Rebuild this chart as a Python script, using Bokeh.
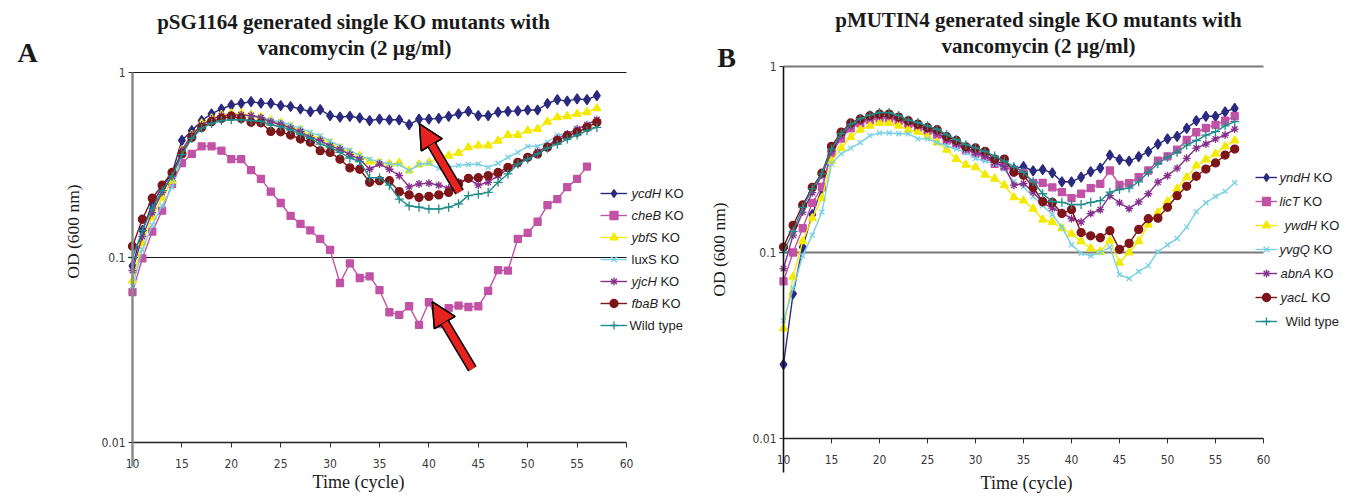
import math
from bokeh.plotting import figure
from bokeh.layouts import row
from bokeh.models import (FixedTicker, CustomJSTickFormatter, Label, Legend,
                          LegendItem, Arrow, NormalHead, Range1d)
from bokeh.embed import file_html
from bokeh.resources import INLINE

# ---------------- data ----------------
CYCLES = [10, 11, 12, 13, 14, 15, 16, 17, 18, 19, 20, 21, 22, 23, 24, 25,
          26, 27, 28, 29, 30, 31, 32, 33, 34, 35, 36, 37, 38, 39, 40, 41,
          42, 43, 44, 45, 46, 47, 48, 49, 50, 51, 52, 53, 54, 55, 56, 57]
X_TICKS = [10, 15, 20, 25, 30, 35, 40, 45, 50, 55, 60]
Y_TICKS = [0.01, 0.1, 1]

# Panel A : pSG1164 generated single KO mutants
A_ycdH = [0.09, 0.14, 0.195, 0.24, 0.285,
          0.43, 0.485, 0.55, 0.597, 0.635, 0.667, 0.681, 0.695, 0.683, 0.681,
          0.662, 0.655, 0.635, 0.614, 0.63, 0.584, 0.574, 0.58, 0.568, 0.55,
          0.56, 0.555, 0.555, 0.522, 0.56, 0.56, 0.565, 0.58, 0.597, 0.617,
          0.584, 0.584, 0.61, 0.617, 0.62, 0.627, 0.627, 0.68, 0.713, 0.70,
          0.72, 0.713, 0.75]
A_cheB = [0.065, 0.099, 0.138, 0.179, 0.25, 0.324, 0.363, 0.399, 0.399, 0.378,
          0.34, 0.34, 0.297, 0.266, 0.227, 0.197, 0.168, 0.152, 0.14, 0.126,
          0.11, 0.0728, 0.093, 0.0775, 0.079, 0.0667, 0.0506, 0.049, 0.0545, 0.0432,
          0.0573, 0.0437, 0.0533, 0.055, 0.054, 0.0545, 0.066, 0.0855, 0.085, 0.126,
          0.136, 0.156, 0.192, 0.207, 0.24, 0.266, 0.31]
A_ybfS = [0.075, 0.12, 0.165, 0.21, 0.26,
          0.38, 0.46, 0.53, 0.565, 0.59, 0.60, 0.60, 0.59, 0.575, 0.55,
          0.535, 0.51, 0.49, 0.46, 0.44, 0.415, 0.39, 0.37, 0.355, 0.33,
          0.325, 0.32, 0.325, 0.295, 0.318, 0.325, 0.348, 0.355, 0.367, 0.394,
          0.403, 0.403, 0.428, 0.459, 0.459, 0.485, 0.495, 0.542, 0.572, 0.58,
          0.597, 0.61, 0.64]
A_luxS = [0.07, 0.11, 0.15, 0.19, 0.24,
          0.36, 0.45, 0.52, 0.56, 0.58, 0.59, 0.59, 0.585, 0.575, 0.555,
          0.54, 0.52, 0.50, 0.475, 0.455, 0.425, 0.40, 0.38, 0.355, 0.34,
          0.33, 0.32, 0.318, 0.295, 0.318, 0.323, 0.303, 0.307, 0.315, 0.318,
          0.32, 0.307, 0.323, 0.348, 0.37, 0.399, 0.399, 0.42, 0.459, 0.465,
          0.495, 0.52, 0.556]
A_yjcH = [0.085, 0.13, 0.175, 0.225, 0.275,
          0.38, 0.46, 0.52, 0.56, 0.585, 0.59, 0.59, 0.585, 0.57, 0.54,
          0.525, 0.50, 0.48, 0.445, 0.43, 0.40, 0.385, 0.36, 0.34, 0.30,
          0.32, 0.30, 0.277, 0.241, 0.25, 0.252, 0.246, 0.237, 0.256, 0.266,
          0.246, 0.255, 0.277, 0.301, 0.32, 0.348, 0.373, 0.40, 0.44, 0.465,
          0.495, 0.522, 0.556]
A_fbaB = [0.115, 0.161, 0.209, 0.246, 0.288,
          0.363, 0.446, 0.505, 0.542, 0.565, 0.58, 0.565, 0.538, 0.535, 0.48,
          0.478, 0.459, 0.437, 0.42, 0.378, 0.37, 0.34, 0.305, 0.30, 0.255,
          0.26, 0.26, 0.227, 0.218, 0.211, 0.214, 0.218, 0.225, 0.25, 0.268,
          0.27, 0.277, 0.288, 0.307, 0.327, 0.348, 0.363, 0.394, 0.428, 0.455,
          0.475, 0.505, 0.538]
A_WT = [0.10, 0.14, 0.185, 0.23, 0.275,
        0.36, 0.44, 0.50, 0.53, 0.55, 0.555, 0.555, 0.55, 0.545, 0.52,
        0.51, 0.49, 0.465, 0.44, 0.41, 0.395, 0.37, 0.345, 0.33, 0.27,
        0.27, 0.246, 0.207, 0.19, 0.187, 0.183, 0.183, 0.187, 0.195, 0.216,
        0.22, 0.225, 0.255, 0.283, 0.32, 0.34, 0.363, 0.39, 0.41, 0.437,
        0.459, 0.485, 0.505]

# Panel B : pMUTIN4 generated single KO mutants
B_yndH = [0.025, 0.06, 0.107, 0.16, 0.22,
          0.35, 0.42, 0.475, 0.505, 0.525, 0.535, 0.535, 0.52, 0.50, 0.48,
          0.46, 0.44, 0.41, 0.39, 0.36, 0.35, 0.335, 0.31, 0.30, 0.281,
          0.29, 0.275, 0.279, 0.268, 0.24, 0.24, 0.254, 0.272, 0.284, 0.334,
          0.316, 0.31, 0.328, 0.349, 0.383, 0.408, 0.421, 0.465, 0.511, 0.54,
          0.54, 0.571, 0.595]
B_licT = [0.07, 0.1, 0.135, 0.185, 0.225,
          0.34, 0.41, 0.465, 0.495, 0.515, 0.525, 0.525, 0.51, 0.49, 0.47,
          0.45, 0.43, 0.40, 0.38, 0.355, 0.34, 0.325, 0.30, 0.29, 0.275,
          0.268, 0.237, 0.237, 0.224, 0.211, 0.196, 0.207, 0.222, 0.234, 0.276,
          0.231, 0.236, 0.254, 0.276, 0.312, 0.329, 0.357, 0.403, 0.443, 0.467,
          0.486, 0.511, 0.54]
B_ywdH = [0.039, 0.074, 0.115, 0.153, 0.196,
          0.31, 0.365, 0.417, 0.457, 0.48, 0.497, 0.497, 0.48, 0.457, 0.445,
          0.42, 0.39, 0.357, 0.318, 0.296, 0.287, 0.262, 0.249, 0.23, 0.198,
          0.19, 0.172, 0.15, 0.146, 0.135, 0.126, 0.115, 0.105, 0.101, 0.116,
          0.088, 0.1, 0.115, 0.141, 0.164, 0.188, 0.22, 0.254, 0.293, 0.316,
          0.339, 0.372, 0.40]
B_yvgQ = [0.043, 0.064, 0.096, 0.124, 0.165,
          0.30, 0.339, 0.364, 0.39, 0.425, 0.439, 0.439, 0.435, 0.435, 0.408,
          0.408, 0.39, 0.375, 0.36, 0.345, 0.32, 0.31, 0.30, 0.281, 0.24,
          0.225, 0.2, 0.179, 0.16, 0.137, 0.11, 0.099, 0.096, 0.1, 0.107,
          0.076, 0.0725, 0.079, 0.085, 0.101, 0.11, 0.119, 0.137, 0.166, 0.185,
          0.2, 0.213, 0.237]
B_abnA = [0.082, 0.124, 0.165, 0.21, 0.26,
          0.35, 0.425, 0.48, 0.51, 0.53, 0.54, 0.54, 0.525, 0.50, 0.48,
          0.46, 0.44, 0.405, 0.385, 0.36, 0.345, 0.33, 0.305, 0.29, 0.23,
          0.235, 0.211, 0.185, 0.173, 0.164, 0.152, 0.146, 0.162, 0.17, 0.202,
          0.185, 0.172, 0.187, 0.207, 0.239, 0.259, 0.284, 0.321, 0.364, 0.383,
          0.408, 0.428, 0.461]
B_yacL = [0.107, 0.14, 0.18, 0.224, 0.267,
          0.372, 0.443, 0.497, 0.522, 0.544, 0.555, 0.555, 0.535, 0.511, 0.49,
          0.47, 0.457, 0.42, 0.40, 0.37, 0.365, 0.35, 0.318, 0.318, 0.27,
          0.26, 0.224, 0.188, 0.186, 0.162, 0.17, 0.128, 0.123, 0.12, 0.131,
          0.104, 0.112, 0.133, 0.152, 0.153, 0.175, 0.202, 0.227, 0.257, 0.281,
          0.303, 0.334, 0.36]
B_WT = [0.10, 0.13, 0.175, 0.22, 0.265,
        0.36, 0.435, 0.49, 0.525, 0.55, 0.566, 0.565, 0.545, 0.515, 0.50,
        0.48, 0.46, 0.43, 0.405, 0.38, 0.365, 0.35, 0.33, 0.31, 0.29,
        0.27, 0.24, 0.207, 0.188, 0.186, 0.181, 0.181, 0.186, 0.19, 0.211,
        0.218, 0.222, 0.24, 0.27, 0.30, 0.325, 0.346, 0.378, 0.40, 0.428,
        0.446, 0.48, 0.505]

A_NAMES = [("ycdH", "KO"), ("cheB", "KO"), ("ybfS", "KO"), ("", "luxS KO"),
           ("yjcH", "KO"), ("fbaB", "KO"), ("", "Wild type")]
B_NAMES = [("yndH", "KO"), ("licT", "KO"), ("ywdH", "KO"), ("yvgQ", "KO"),
           ("abnA", "KO"), ("yacL", "KO"), ("", "Wild type")]
A_SERIES = [A_ycdH, A_cheB, A_ybfS, A_luxS, A_yjcH, A_fbaB, A_WT]
B_SERIES = [B_yndH, B_licT, B_ywdH, B_yvgQ, B_abnA, B_yacL, B_WT]

TITLE_A = ["pSG1164 generated single KO mutants with", "vancomycin (2 \u00b5g/ml)"]
TITLE_B = ["pMUTIN4 generated single KO mutants with", "vancomycin (2 \u00b5g/ml)"]
Y_LABEL = "OD (600 nm)"
X_LABEL = "Time (cycle)"

# annotation arrows in panel A: (x_tail, y_tail, x_tip, y_tip)
ARROWS_A = [(44.4, 0.025, 40.35, 0.0575), (43.1, 0.226, 39.05, 0.527)]

# ---------------- styles ----------------
COLORS = ["#2B2A7E", "#C152A6", "#F3EA00", "#78D0E4", "#86308C", "#7E1518", "#1E8C8A"]
MARKERS = ["diamond", "square", "triangle", "x", "asterisk", "circle", "cross"]
MSIZE = [10, 7, 8, 7, 8, 8, 9]

SERIF = "'Liberation Serif', 'Times New Roman', serif"
SANS = "'Liberation Sans', Arial, sans-serif"
NARROW = "'Liberation Sans Narrow', 'Arial Narrow', 'DejaVu Sans Condensed', sans-serif"

AW = {' ': 278, 'a': 556, 'b': 556, 'c': 500, 'd': 556, 'e': 556, 'f': 278, 'g': 556,
      'h': 556, 'i': 222, 'j': 222, 'k': 500, 'l': 222, 'm': 833, 'n': 556, 'o': 556,
      'p': 556, 'q': 556, 'r': 333, 's': 500, 't': 278, 'u': 556, 'v': 500, 'w': 722,
      'x': 500, 'y': 500, 'z': 500, 'A': 667, 'B': 667, 'C': 722, 'D': 722, 'H': 722,
      'K': 667, 'L': 556, 'O': 778, 'Q': 778, 'S': 667, 'T': 611, 'W': 944}

# the page content is observed to start 1px from the top-left corner
ORIGIN = 1


def text_w(s, px):
    return sum(AW.get(ch, 556) for ch in s) / 1000.0 * px


def build(spec):
    g = spec["geom"]
    pl, pt, w, h = g["page_left"], g["page_top"], g["w"], g["h"]
    # frame covers the whole canvas; map page pixels -> data
    ppx = (g["x60"] - g["x10"]) / 50.0
    ppd = (g["y001"] - g["y1"]) / 2.0
    x_start = 10 - (g["x10"] - pl) / ppx
    x_end = 60 + (pl + w - g["x60"]) / ppx
    lt = (g["y1"] - pt) / ppd
    lb = -2 - (pt + h - g["y001"]) / ppd
    fl, fb = pl, pt + h

    p = figure(width=w, height=h, x_range=Range1d(x_start, x_end),
               y_range=Range1d(10 ** lb, 10 ** lt), y_axis_type="log",
               output_backend="svg", toolbar_location=None, title_location=None)
    p.min_border = 0
    p.outline_line_color = None
    p.background_fill_color = "white"
    p.border_fill_color = "white"
    p.xgrid.visible = False
    p.ygrid.visible = False

    # axes drawn inside the frame at fixed locations
    p.yaxis.fixed_location = X_TICKS[0]
    p.yaxis.bounds = (10 ** (-2 - g["yaxis_ext"] / ppd), Y_TICKS[-1])
    p.yaxis.ticker = FixedTicker(ticks=Y_TICKS, minor_ticks=[])
    p.yaxis.formatter = CustomJSTickFormatter(code="return String(tick);")
    p.xaxis.fixed_location = Y_TICKS[0]
    p.xaxis.bounds = (X_TICKS[0], X_TICKS[-1])
    p.xaxis.ticker = FixedTicker(ticks=X_TICKS, minor_ticks=[])
    for ax in (p.xaxis, p.yaxis):
        ax.major_label_text_font = NARROW
        ax.major_label_text_font_size = "12px"
        ax.major_label_text_color = "#3a3a3a"
        ax.minor_tick_line_color = None
        ax.major_tick_in = 0
        ax.major_tick_line_color = "#333333"
    p.xaxis.major_tick_out = 5
    p.xaxis.major_label_standoff = 11
    p.yaxis.major_tick_out = 4
    p.yaxis.major_label_standoff = 3
    p.yaxis.axis_line_color = g["yaxis_color"]
    p.yaxis.axis_line_width = g["yaxis_width"]
    p.xaxis.axis_line_color = "#222222"
    p.xaxis.axis_line_width = 1.3

    # horizontal grid lines at the major y ticks, limited to the x-axis span
    gy = Y_TICKS[1:]
    p.segment(x0=[X_TICKS[0]] * len(gy), x1=[X_TICKS[-1]] * len(gy), y0=gy, y1=gy,
              line_color=g["grid_color"], line_width=g["grid_width"])

    items = []
    for vals, (it, rg), c, m, s in zip(spec["series"], spec["names"], COLORS, MARKERS, MSIZE):
        xs = CYCLES[:len(vals)]
        lr = p.line(xs, vals, line_color=c, line_width=1.4)
        sr = p.scatter(xs, vals, marker=m, size=s, fill_color=c, line_color=c,
                       line_width=1.3)
        items.append(LegendItem(label=(it + " " + rg).strip(), renderers=[lr, sr]))

    lg = g["legend"]
    leg = Legend(items=items, location=(lg["left"] - fl, fb - lg["bottom"]),
                 glyph_width=lg["glyph_w"], glyph_height=20, label_height=20,
                 spacing=lg["spacing"], padding=0, margin=0,
                 label_text_alpha=0, label_text_font_size="13px",
                 background_fill_alpha=0, border_line_color=None)
    p.add_layout(leg)
    step = 20 + lg["spacing"]
    top_center = lg["bottom"] - 7 * 20 - 6 * lg["spacing"] + 10
    for i, (it, rg) in enumerate(spec["names"]):
        ty = fb - (top_center + i * step)
        tx = lg["text_x"][i] - fl
        if it:
            p.add_layout(Label(x=tx, y=ty, x_units="screen", y_units="screen", text=it,
                               text_font=SANS, text_font_style="italic",
                               text_font_size="13px", text_color="#1e1e1e",
                               text_baseline="middle", text_align="left"))
            tx += text_w(it + " ", 13)
        p.add_layout(Label(x=tx, y=ty, x_units="screen", y_units="screen", text=rg,
                           text_font=SANS, text_font_size="13px", text_color="#1e1e1e",
                           text_baseline="middle", text_align="left"))

    # titles, panel letter, axis labels
    for (txt, (px, py), size, angle) in spec["texts"]:
        p.add_layout(Label(x=px - fl, y=fb - py, x_units="screen", y_units="screen",
                           text=txt, text_font=SERIF,
                           text_font_style="bold" if size >= 20 else "normal",
                           text_font_size=f"{size}px", text_color="#1a1a1a",
                           text_align="center", text_baseline="middle",
                           angle=angle))

    for (x0, y0, x1, y1) in spec.get("arrows", []):
        p.add_layout(Arrow(x_start=x0, y_start=y0, x_end=x1, y_end=y1,
                           line_color="black", line_width=10,
                           end=NormalHead(size=24, fill_color="#E8231F",
                                          line_color="black", line_width=1.5)))
        p.add_layout(Arrow(x_start=x0, y_start=y0, x_end=x1, y_end=y1,
                           line_color="#E8231F", line_width=7,
                           end=NormalHead(size=24, fill_color="#E8231F",
                                          line_color="black", line_width=1.5)))
    return p


H = 494
specA = dict(
    series=A_SERIES, names=A_NAMES, arrows=ARROWS_A,
    geom=dict(w=700, h=H, page_left=ORIGIN, page_top=ORIGIN,
              x10=133, x60=627, y1=73, y001=443, yaxis_ext=24,
              grid_color="#1a1a1a", grid_width=1.1, yaxis_color="#8a8a8a", yaxis_width=2.5,
              legend=dict(left=601, bottom=336, glyph_w=27, spacing=2,
                          text_x=[632, 632, 632, 632, 632, 632, 630])),
    texts=[(TITLE_A[0], (354, 22), 21, 0), (TITLE_A[1], (355, 48), 21, 0),
           ("A", (28, 53), 28, 0),
           (Y_LABEL, (73, 232), 17.5, math.pi / 2),
           (X_LABEL, (359, 482), 18, 0)])

specB = dict(
    series=B_SERIES, names=B_NAMES,
    geom=dict(w=640, h=H, page_left=ORIGIN + 700, page_top=ORIGIN,
              x10=784, x60=1264, y1=67, y001=439, yaxis_ext=34,
              grid_color="#7a7a7a", grid_width=2.2, yaxis_color="#111111", yaxis_width=1.6,
              legend=dict(left=1256, bottom=332, glyph_w=22, spacing=4,
                          text_x=[1280, 1280, 1285, 1280, 1281, 1281, 1286])),
    texts=[(TITLE_B[0], (1039, 20), 21, 0), (TITLE_B[1], (1039, 46), 21, 0),
           ("B", (727, 58), 28, 0),
           (Y_LABEL, (719, 250), 17.5, math.pi / 2),
           (X_LABEL, (1027, 483), 18, 0)])

pa = build(specA)
pb = build(specB)
layout = row(pa, pb)
open("out.html", "w").write(file_html(layout, INLINE))
